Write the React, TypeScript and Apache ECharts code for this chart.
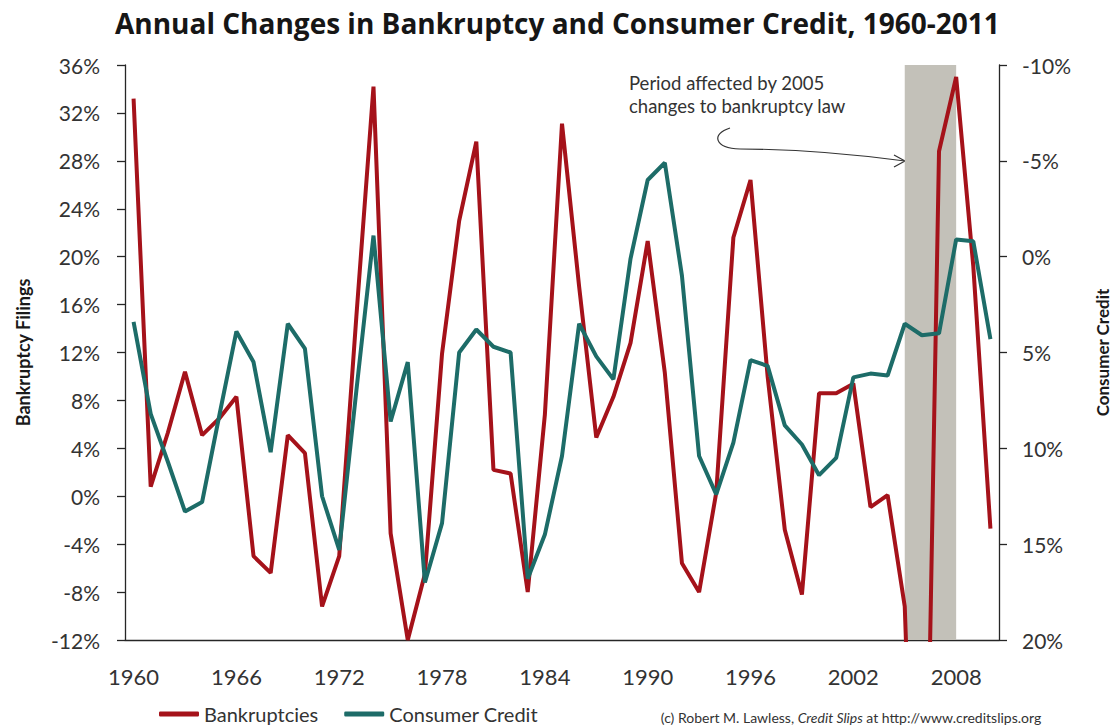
import React, { useEffect, useRef } from "react";
import * as echarts from "echarts";

const years = [
  "1960", "1961", "1962", "1963", "1964", "1965", "1966", "1967", "1968", "1969",
  "1970", "1971", "1972", "1973", "1974", "1975", "1976", "1977", "1978", "1979",
  "1980", "1981", "1982", "1983", "1984", "1985", "1986", "1987", "1988", "1989",
  "1990", "1991", "1992", "1993", "1994", "1995", "1996", "1997", "1998", "1999",
  "2000", "2001", "2002", "2003", "2004", "2005", "2006", "2007", "2008", "2009",
  "2010",
];

// Annual % change in bankruptcy filings (left axis)
const bankruptcies = [
  33.2, 0.8, 5.3, 10.4, 5.1, 6.5, 8.3, -5.0, -6.4, 5.1,
  3.6, -9.2, -5.0, 15.0, 34.2, -3.1, -12.0, -6.5, 11.9, 23.0,
  29.6, 2.2, 1.9, -8.0, 6.8, 31.1, 17.5, 4.9, 8.3, 12.8,
  21.3, 10.3, -5.6, -8.0, 0.3, 21.6, 26.4, 10.0, -2.8, -8.2,
  8.6, 8.6, 9.4, -0.9, 0.1, -9.2, -50.0, 28.8, 35.0, 19.2,
  -2.7,
];

// Annual % change in consumer credit (right axis, inverted)
const consumerCredit = [
  3.4, 8.2, 10.7, 13.3, 12.8, 8.3, 3.9, 5.5, 10.2, 3.5,
  4.8, 12.5, 15.3, 7.0, -1.1, 8.6, 5.5, 17.0, 13.9, 5.0,
  3.8, 4.7, 5.0, 16.8, 14.5, 10.4, 3.5, 5.2, 6.4, 0.1,
  -4.0, -4.9, 1.0, 10.4, 12.4, 9.7, 5.4, 5.7, 8.8, 9.8,
  11.4, 10.5, 6.3, 6.1, 6.2, 3.5, 4.1, 4.0, -0.9, -0.8,
  4.3,
];

const shadedPeriod = ["2005", "2008"];

const RED = "#A5121A";
const TEAL = "#1D6C68";
const AXIS = "#262626";
const FONT = "Lato";

export default function App() {
  const ref = useRef<HTMLDivElement>(null);

  useEffect(() => {
    document.body.style.margin = "0";
    const chart = echarts.init(ref.current as HTMLDivElement, null, { renderer: "svg" });
    chart.setOption({
      animation: false,
      backgroundColor: "#ffffff",
      textStyle: { fontFamily: FONT },
      title: {
        text: "Annual Changes in Bankruptcy and Consumer Credit, 1960-2011",
        left: 110,
        top: 4,
        textStyle: { fontSize: 28, fontWeight: "bold", color: "#161616", fontFamily: "Open Sans" },
      },
      grid: {
        left: 125,
        right: 117,
        top: 65,
        bottom: 85,
        containLabel: false,
        outerBoundsMode: "none",
      },
      legend: {
        data: ["Bankruptcies", "Consumer Credit"],
        left: 159,
        top: 704,
        padding: 0,
        icon: "roundRect",
        itemWidth: 40,
        itemHeight: 5,
        itemGap: 26,
        textStyle: { fontSize: 20, color: "#333", fontFamily: FONT },
      },
      xAxis: {
        type: "category",
        data: years,
        boundaryGap: true,
        axisLine: { onZero: false, lineStyle: { color: AXIS, width: 1.3 } },
        axisTick: { interval: 2, length: 6, lineStyle: { color: AXIS, width: 1.3 } },
        axisLabel: { interval: 5, fontSize: 22, color: "#333", margin: 25, fontFamily: FONT },
        splitLine: { show: false },
      },
      yAxis: [
        {
          type: "value",
          position: "left",
          min: -12,
          max: 36,
          interval: 4,
          axisLine: { show: true, lineStyle: { color: AXIS, width: 1.3 } },
          axisTick: { show: true, length: 8, lineStyle: { color: AXIS, width: 1.3 } },
          splitLine: { show: false },
          axisLabel: { formatter: "{value}%", fontSize: 21, color: "#333", margin: 25, fontFamily: FONT },
          name: "Bankruptcy Filings",
          nameLocation: "middle",
          nameRotate: 90,
          nameGap: 93,
          nameTextStyle: { fontSize: 18, fontWeight: "bold", color: "#1a1a1a", fontFamily: FONT },
        },
        {
          type: "value",
          position: "right",
          min: -10,
          max: 20,
          interval: 5,
          inverse: true,
          axisLine: { show: true, lineStyle: { color: AXIS, width: 1.3 } },
          axisTick: { show: true, length: 8, lineStyle: { color: AXIS, width: 1.3 } },
          splitLine: { show: false },
          axisLabel: { formatter: "{value}%", fontSize: 21, color: "#333", margin: 23, fontFamily: FONT },
          name: "Consumer Credit",
          nameLocation: "middle",
          nameRotate: 90,
          nameGap: 95,
          nameTextStyle: { fontSize: 17, fontWeight: "bold", color: "#1a1a1a", fontFamily: FONT },
        },
      ],
      series: [
        {
          name: "period",
          type: "line",
          data: [],
          z: 1,
          silent: true,
          markArea: {
            silent: true,
            itemStyle: { color: "#c3c1b9" },
            data: [[{ xAxis: shadedPeriod[0] }, { xAxis: shadedPeriod[1] }]],
          },
        },
        {
          name: "Bankruptcies",
          type: "line",
          data: bankruptcies,
          yAxisIndex: 0,
          symbol: "none",
          showSymbol: false,
          clip: true,
          z: 3,
          lineStyle: { color: RED, width: 4 },
          itemStyle: { color: RED },
        },
        {
          name: "Consumer Credit",
          type: "line",
          data: consumerCredit,
          yAxisIndex: 1,
          symbol: "none",
          showSymbol: false,
          clip: true,
          z: 4,
          lineStyle: { color: TEAL, width: 4 },
          itemStyle: { color: TEAL },
        },
      ],
      graphic: [
        {
          type: "text",
          left: 629,
          top: 71,
          style: {
            text: "Period affected by 2005\nchanges to bankruptcy law",
            font: `18.5px ${FONT}`,
            fill: "#333",
            lineHeight: 23,
          },
        },
        {
          type: "bezierCurve",
          shape: { x1: 730, y1: 128, cpx1: 711, cpy1: 134, cpx2: 714, cpy2: 148, x2: 740, y2: 149 },
          style: { stroke: "#333", lineWidth: 1.2, fill: "none" },
        },
        {
          type: "bezierCurve",
          shape: { x1: 740, y1: 149, cpx1: 800, cpy1: 149, cpx2: 860, cpy2: 155, x2: 905, y2: 161 },
          style: { stroke: "#333", lineWidth: 1.2, fill: "none" },
        },
        {
          type: "polyline",
          shape: { points: [[894, 155], [905, 161], [894, 167]] },
          style: { stroke: "#333", lineWidth: 1.2, fill: "none" },
        },
        {
          type: "text",
          x: 851,
          y: 717,
          style: {
            text: "{a|(c) Robert M. Lawless, }{b|Credit Slips}{a| at http://www.creditslips.org}",
            align: "center",
            verticalAlign: "middle",
            rich: {
              a: { fontSize: 14, fontFamily: FONT, fill: "#333", color: "#333" },
              b: { fontSize: 14, fontFamily: FONT, fontStyle: "italic", fill: "#333", color: "#333" },
            },
          },
        },
      ],
    });
    return () => chart.dispose();
  }, []);

  return <div ref={ref} style={{ width: 1116, height: 725 }} />;
}
